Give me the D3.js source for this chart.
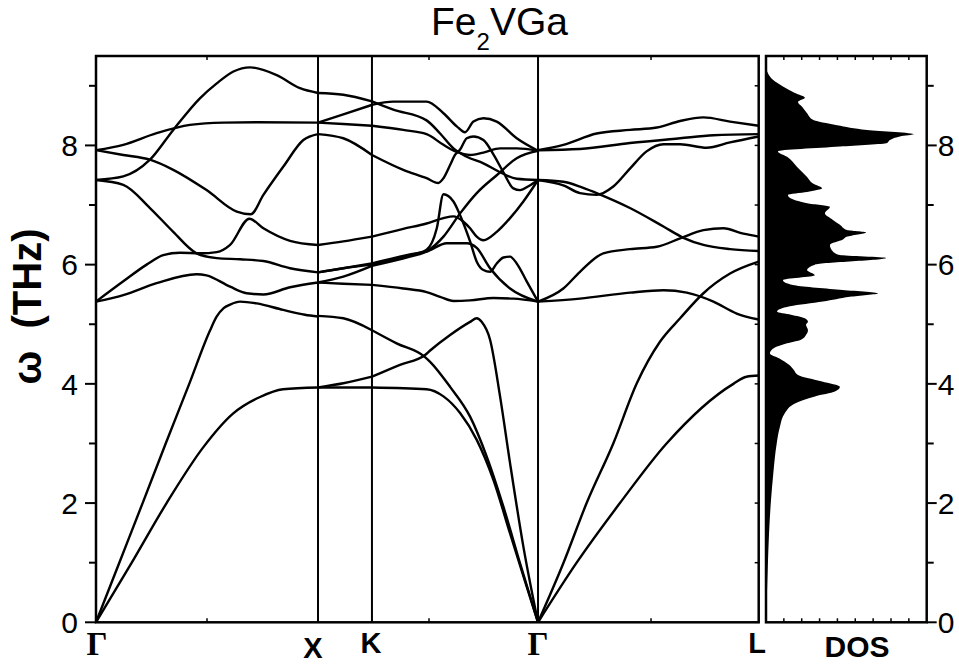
<!DOCTYPE html>
<html><head><meta charset="utf-8">
<script src="https://cdnjs.cloudflare.com/ajax/libs/d3/7.8.5/d3.min.js"></script>
<style>body{margin:0;background:#fff;} svg{display:block;}</style>
</head><body>
<svg id="c" width="959" height="665"></svg>
<script>
// ---------- data ----------
const symLabels = ["Γ","X","K","Γ","L"];
const symK = [0, 1.0, 1.243, 1.991, 2.985];
const freqTicks = [0, 2, 4, 6, 8];
const freqMinor = [1, 3, 5, 7, 9];

// Γ–X branches  [k, THz]
const gxTA  = [[0,0],[0.161,1.0],[0.318,2.0],[0.482,2.93],[0.617,3.50],[0.739,3.78],[0.842,3.91],[1.0,3.94]];
const gxLA  = [[0,0],[0.105,1.0],[0.21,2.0],[0.314,3.0],[0.42,4.0],[0.514,4.9],[0.544,5.13],[0.575,5.27],[0.604,5.33],[0.649,5.38],[0.724,5.35],[0.843,5.24],[0.941,5.16],[1.0,5.13]];
const gxO1  = [[0,5.38],[0.123,5.49],[0.273,5.69],[0.453,5.84],[0.498,5.82],[0.604,5.63],[0.679,5.52],[0.754,5.50],[0.874,5.62],[1.0,5.70]];
const gxO2  = [[0,5.38],[0.123,5.72],[0.228,6.0],[0.303,6.16],[0.378,6.20],[0.468,6.19],[0.544,6.21],[0.604,6.33],[0.691,6.77],[0.754,6.61],[0.874,6.40],[1.0,6.33]];
const gxO5  = [[0,7.42],[0.123,7.34],[0.243,6.95],[0.348,6.55],[0.453,6.19],[0.544,6.11],[0.649,6.09],[0.754,6.06],[0.874,5.94],[1.0,5.87]];
const gxO3  = [[0,7.42],[0.123,7.48],[0.243,7.76],[0.348,8.26],[0.468,8.79],[0.544,9.04],[0.619,9.24],[0.694,9.31],[0.814,9.18],[0.919,8.96],[1.0,8.88]];
const gxO4  = [[0,7.92],[0.123,7.84],[0.243,7.76],[0.348,7.59],[0.498,7.25],[0.634,6.89],[0.697,6.845],[0.754,7.17],[0.844,7.645],[0.934,8.09],[1.0,8.19]];
const gxO6  = [[0,7.92],[0.123,8.01],[0.273,8.205],[0.423,8.344],[0.574,8.383],[0.724,8.389],[1.0,8.383]];

// X–K–Γ branches
const xgTA1 = [[1.0,3.94],[1.243,3.94],[1.489,3.91],[1.565,3.79],[1.640,3.51],[1.715,3.06],[1.790,2.39],[1.865,1.49],[1.940,0.60],[1.991,0]];
const xgTA2 = [[1.0,3.94],[1.114,4.01],[1.243,4.12],[1.369,4.32],[1.482,4.485],[1.505,4.56],[1.595,4.82],[1.685,5.04],[1.715,5.10],[1.737,5.04],[1.775,4.74],[1.820,3.79],[1.865,2.67],[1.925,1.27],[1.991,0]];
const xgLA  = [[1.0,5.14],[1.114,5.10],[1.243,4.90],[1.354,4.68],[1.482,4.45],[1.505,4.37],[1.595,3.95],[1.685,3.45],[1.760,2.78],[1.835,1.94],[1.910,0.99],[1.991,0]];
const xgO1  = [[1.0,5.70],[1.114,5.68],[1.243,5.66],[1.384,5.60],[1.489,5.54],[1.550,5.46],[1.610,5.39],[1.685,5.40],[1.790,5.44],[1.880,5.43],[1.991,5.38]];
const xgM3  = [[1.0,5.70],[1.114,5.80],[1.243,5.98],[1.414,6.135],[1.489,6.22],[1.565,6.47],[1.640,6.86],[1.715,7.20],[1.805,7.50],[1.895,7.785],[1.991,7.91]];
const xgM2  = [[1.0,5.87],[1.114,5.94],[1.243,6.0],[1.414,6.16],[1.489,6.25],[1.535,6.61],[1.565,7.18],[1.610,7.06],[1.640,6.83],[1.685,6.39],[1.715,6.05],[1.745,5.91],[1.775,5.88],[1.805,6.02],[1.835,6.12],[1.865,6.135],[1.895,6.02],[1.940,5.72],[1.991,5.38]];
const xgM5  = [[1.0,5.87],[1.114,5.94],[1.243,6.02],[1.414,6.17],[1.489,6.22],[1.580,6.36],[1.670,6.36],[1.715,6.28],[1.775,5.94],[1.865,5.60],[1.991,5.38]];
const xgM1  = [[1.0,6.33],[1.114,6.39],[1.243,6.47],[1.384,6.60],[1.489,6.69],[1.565,6.78],[1.610,6.81],[1.655,6.72],[1.685,6.61],[1.715,6.47],[1.745,6.41],[1.805,6.55],[1.865,6.78],[1.925,7.06],[1.991,7.42]];
const xgO4  = [[1.0,8.19],[1.114,8.12],[1.243,7.84],[1.384,7.59],[1.489,7.45],[1.542,7.37],[1.565,7.45],[1.595,7.67],[1.617,7.84],[1.640,7.93],[1.670,8.12],[1.700,8.15],[1.745,8.09],[1.790,7.85],[1.835,7.55],[1.880,7.28],[1.910,7.25],[1.950,7.32],[1.991,7.42]];
const xgO6a = [[1.0,8.383],[1.114,8.52],[1.243,8.68],[1.339,8.735],[1.489,8.735],[1.565,8.54],[1.625,8.32],[1.662,8.22],[1.700,8.40],[1.745,8.456],[1.805,8.40],[1.895,8.12],[1.991,7.91]];
const xgO6b = [[1.0,8.383],[1.114,8.36],[1.243,8.33],[1.384,8.26],[1.489,8.19],[1.565,8.01],[1.625,7.89],[1.685,7.84],[1.745,7.88],[1.820,7.95],[1.895,7.95],[1.991,7.91]];
const xgO3  = [[1.0,8.88],[1.114,8.85],[1.243,8.74],[1.339,8.60],[1.489,8.42],[1.550,8.20],[1.610,7.95],[1.670,7.81],[1.745,7.70],[1.820,7.55],[1.895,7.44],[1.991,7.42]];

// Γ–L branches
const glTA  = [[1.991,0],[2.165,1.0],[2.36,2.0],[2.57,3.0],[2.871,4.0],[2.93,4.12],[2.985,4.14]];
const glLA  = [[1.991,0],[2.105,0.99],[2.21,2.0],[2.33,3.0],[2.436,4.01],[2.541,4.71],[2.631,5.10],[2.736,5.52],[2.856,5.85],[2.985,6.05]];
const glG6  = [[1.991,5.38],[2.180,5.43],[2.405,5.53],[2.556,5.57],[2.661,5.53],[2.781,5.38],[2.886,5.18],[2.985,5.08]];
const glG5  = [[1.991,5.38],[2.105,5.60],[2.180,5.88],[2.285,6.19],[2.405,6.26],[2.526,6.30],[2.631,6.44],[2.736,6.58],[2.826,6.61],[2.916,6.52],[2.985,6.47]];
const glG4  = [[1.991,7.42],[2.105,7.39],[2.180,7.31],[2.255,7.20],[2.405,6.95],[2.556,6.64],[2.646,6.45],[2.736,6.33],[2.856,6.26],[2.985,6.23]];
const glG3  = [[1.991,7.42],[2.105,7.33],[2.180,7.20],[2.255,7.17],[2.330,7.31],[2.405,7.61],[2.480,7.90],[2.556,8.02],[2.631,8.02],[2.751,7.96],[2.856,8.05],[2.985,8.15]];
const glG2  = [[1.991,7.92],[2.180,7.94],[2.405,8.04],[2.631,8.12],[2.781,8.17],[2.985,8.19]];
const glG1  = [[1.991,7.92],[2.105,8.01],[2.255,8.20],[2.405,8.26],[2.526,8.30],[2.631,8.41],[2.736,8.47],[2.856,8.40],[2.985,8.33]];

// Phonon DOS (arb. units)
const dosFreq = [0,0.37,0.93,1.49,2.05,2.5,3.0,3.28,3.51,3.67,3.79,3.87,3.95,4.04,4.15,4.23,4.32,4.43,4.51,4.6,4.68,4.74,4.82,4.90,4.99,5.04,5.10,5.16,5.21,5.30,5.38,5.46,5.52,5.58,5.66,5.74,5.82,5.91,6.0,6.11,6.16,6.22,6.33,6.42,6.47,6.54,6.58,6.67,6.75,6.86,6.97,7.03,7.12,7.17,7.22,7.28,7.36,7.47,7.64,7.81,7.90,7.98,8.04,8.09,8.15,8.19,8.26,8.34,8.43,8.54,8.65,8.73,8.80,8.88,8.99,9.10,9.21,9.30];
const dosVal  = [0,0.04,0.1,0.17,0.28,0.41,0.6,0.78,1.06,1.62,2.74,3.86,4.14,3.14,1.79,1.57,1.29,0.73,0.22,0.45,1.18,1.96,2.24,2.35,2.24,2.35,2.18,1.4,0.62,1.34,3.19,4.7,6.27,4.14,1.51,0.95,2.74,2.3,2.74,6.72,4.14,3.75,3.58,4.31,4.54,5.6,4.54,4.14,3.75,3.3,3.58,2.3,1.34,1.23,2.3,3.14,2.63,2.3,1.74,1.18,0.67,4.14,6.78,6.94,7.5,8.29,5.66,3.98,2.63,2.3,2.02,1.79,2.18,1.62,0.95,0.39,0.11,0];

const allBands = [gxTA,gxLA,gxO1,gxO2,gxO5,gxO3,gxO4,gxO6,
  xgTA1,xgTA2,xgLA,xgO1,xgM3,xgM2,xgM5,xgM1,xgO4,xgO6a,xgO6b,xgO3,
  glTA,glLA,glG6,glG5,glG4,glG3,glG2,glG1];

// ---------- drawing ----------
const svg = d3.select("#c");
const L = 96, R = 758.7, T = 56, B = 622.3;
const DL = 766, DR = 926.7;
const x = d3.scaleLinear().domain([0, 2.985]).range([L, R]);
const y = d3.scaleLinear().domain([0, 9.5]).range([B, T]);
const dx = d3.scaleLinear().domain([0, 9]).range([DL, DR]);
const sans = "'Liberation Sans', Arial, sans-serif";

// bands, split at high-symmetry points
const line = d3.line().x(d => x(d[0])).y(d => y(d[1])).curve(d3.curveMonotoneX);
const gBands = svg.append("g");
allBands.forEach(b => {
  let piece = [b[0]];
  for (let i = 1; i < b.length; i++) {
    piece.push(b[i]);
    const isSym = symK.some(s => Math.abs(s - b[i][0]) < 1e-6);
    if (isSym && i < b.length - 1) {
      gBands.append("path").attr("d", line(piece)).attr("fill","none").attr("stroke","#000").attr("stroke-width",2.4);
      piece = [b[i]];
    }
  }
  gBands.append("path").attr("d", line(piece)).attr("fill","none").attr("stroke","#000").attr("stroke-width",2.4);
});

// vertical lines
[1.0, 1.243, 1.991].forEach(k => {
  svg.append("line").attr("x1", x(k)).attr("x2", x(k)).attr("y1", T).attr("y2", B)
    .attr("stroke","#000").attr("stroke-width",2);
});

// main frame
svg.append("rect").attr("x",L).attr("y",T).attr("width",R-L).attr("height",B-T)
  .attr("fill","none").attr("stroke","#000").attr("stroke-width",2.5);

// left axis ticks & labels
freqTicks.forEach(v => {
  svg.append("line").attr("x1",L-11).attr("x2",L).attr("y1",y(v)).attr("y2",y(v)).attr("stroke","#000").attr("stroke-width",2);
  svg.append("text").attr("x",L-18).attr("y",y(v)).attr("dy","0.36em").attr("text-anchor","end")
    .attr("font-family",sans).attr("font-size",30).text(v);
});
freqMinor.forEach(v => {
  svg.append("line").attr("x1",L-7).attr("x2",L).attr("y1",y(v)).attr("y2",y(v)).attr("stroke","#000").attr("stroke-width",2);
});
// right side of main panel (inward)
freqTicks.concat(freqMinor).forEach(v => {
  svg.append("line").attr("x1",R-4).attr("x2",R).attr("y1",y(v)).attr("y2",y(v)).attr("stroke","#000").attr("stroke-width",1.5);
});
// top/bottom minor ticks of main panel
[0.5,1.5,2.5].forEach(k => {
  svg.append("line").attr("x1",x(k)).attr("x2",x(k)).attr("y1",T).attr("y2",T+4).attr("stroke","#000").attr("stroke-width",1.5);
  svg.append("line").attr("x1",x(k)).attr("x2",x(k)).attr("y1",B).attr("y2",B-4).attr("stroke","#000").attr("stroke-width",1.5);
});

// DOS panel
const area = d3.area().y(d => y(d[0])).x0(dx(0)).x1(d => dx(d[1])).curve(d3.curveMonotoneY);
svg.append("path").attr("d", area(dosFreq.map((f,i)=>[f, dosVal[i]]))).attr("fill","#000");
svg.append("rect").attr("x",DL).attr("y",T).attr("width",DR-DL).attr("height",B-T)
  .attr("fill","none").attr("stroke","#000").attr("stroke-width",2.5);
d3.range(1,9).forEach(v => {
  svg.append("line").attr("x1",dx(v)).attr("x2",dx(v)).attr("y1",T).attr("y2",T+4).attr("stroke","#000").attr("stroke-width",1.5);
  svg.append("line").attr("x1",dx(v)).attr("x2",dx(v)).attr("y1",B).attr("y2",B-4).attr("stroke","#000").attr("stroke-width",1.5);
});
freqTicks.forEach(v => {
  svg.append("line").attr("x1",DR).attr("x2",DR+10).attr("y1",y(v)).attr("y2",y(v)).attr("stroke","#000").attr("stroke-width",2);
  svg.append("text").attr("x",DR+11).attr("y",y(v)).attr("dy","0.36em").attr("text-anchor","start")
    .attr("font-family",sans).attr("font-size",30).text(v);
});
freqMinor.forEach(v => {
  svg.append("line").attr("x1",DR).attr("x2",DR+7).attr("y1",y(v)).attr("y2",y(v)).attr("stroke","#000").attr("stroke-width",2);
});

// x labels
const labelPos = [[symK[0],97,655,true],[symK[1],313,658,false],[symK[2],371,653,false],[symK[3],538,655,true],[symK[4],757,653,false]];
symLabels.forEach((s,i) => {
  const serif = labelPos[i][3];
  svg.append("text").attr("x", labelPos[i][1]).attr("y", labelPos[i][2]).attr("text-anchor","middle")
    .attr("font-family", serif ? "'Liberation Serif', 'Times New Roman', serif" : sans)
    .attr("font-weight","bold").attr("font-size", serif ? 33 : 29).text(s);
});
svg.append("text").attr("x",857).attr("y",657).attr("text-anchor","middle")
  .attr("font-family",sans).attr("font-weight","bold").attr("font-size",30).text("DOS");

// y label
svg.append("text").attr("transform","translate(41,306.5) rotate(-90)").attr("text-anchor","middle")
  .attr("font-family",sans).attr("font-weight","bold").attr("font-size",40)
  .style("white-space","pre").text("ω  (THz)");

// title
const title = svg.append("text").attr("x",431).attr("y",35).attr("font-family",sans).attr("font-size",39);
title.append("tspan").text("Fe");
title.append("tspan").attr("font-size",24).attr("dy",15).text("2");
title.append("tspan").attr("dy",-15).text("VGa");
</script>
</body></html>
